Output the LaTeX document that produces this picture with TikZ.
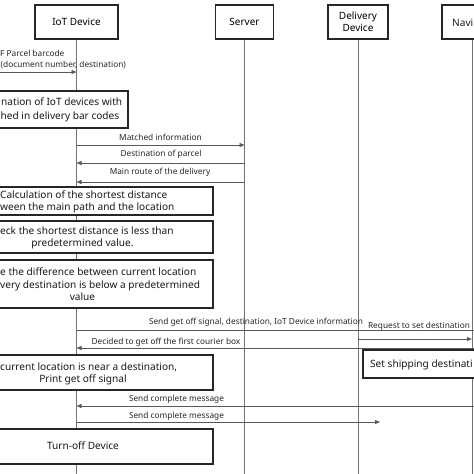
\documentclass[tikz,border=0pt]{standalone}
\usepackage{fontspec}
\setmainfont{Noto Sans}
\usetikzlibrary{arrows.meta}
\begin{document}
\begin{tikzpicture}[x=1pt,y=-1pt,
  life/.style={draw=black!55, line width=0.9pt},
  head/.style={draw=black!85, line width=1.2pt, fill=white, inner sep=0pt, align=center,
    font=\fontsize{10}{12}\selectfont},
  stepbox/.style={draw=black!85, line width=1.2pt, fill=white, inner sep=0pt},
  msg/.style={draw=black!65, line width=0.8pt, -{Triangle[length=5pt,width=4pt]}},
  lbl/.style={font=\fontsize{8.3}{9}\selectfont, inner sep=0pt, text=black!85},
  btx/.style={font=\fontsize{10.1}{11}\selectfont, inner sep=0pt, text=black!90},
]
\useasboundingbox (0,0) rectangle (474,474);
\clip (0,0) rectangle (474,474);
\fill[white] (0,0) rectangle (474,474);

% headers
\node[head, minimum width=83, minimum height=34] (iot) at (76.5,22) {IoT Device};
\node[head, minimum width=58, minimum height=34] (server) at (244.5,22) {Server};
\node[head, minimum width=60, minimum height=34] (dd) at (358,22) {Delivery\\Device};
\node[head, minimum width=60, minimum height=34] (navi) at (472,22) {};
\node[btx, anchor=west] (navitxt) at (452,23) {Navi};

% lifelines
\coordinate (iotend) at (iot.south |- 0,480);
\coordinate (serverend) at (server.south |- 0,480);
\coordinate (ddend) at (dd.south |- 0,480);
\coordinate (naviend) at (navi.south |- 0,480);
\draw[life] (iot.south) -- (iotend);
\draw[life] (server.south) -- (serverend);
\draw[life] (dd.south) -- (ddend);
\draw[life] (navi.south) -- (naviend);

% first message
\coordinate (src0) at (-5,72);
\draw[msg] (src0) -- (iot |- 0,72);
\node[lbl, anchor=base west] (l0a) at (0,56.5) {F Parcel barcode};
\node[lbl, anchor=base west] (l0b) at (0.5,67) {(document number, destination)};

% box 1
\node[stepbox, minimum width=148, minimum height=37] (b1) at (54,109.5) {};
\node[btx, anchor=base west] (b1a) at (1,105.5) {nation of IoT devices with};
\node[btx, anchor=base west] (b1b) at (0.5,119.5) {hed in delivery bar codes};

% messages with server
\draw[msg] (iot |- 0,145) -- (server |- 0,145);
\node[lbl, anchor=base] (l1) at (160.5,140) {Matched information};
\draw[msg] (server |- 0,163) -- (iot |- 0,163);
\node[lbl, anchor=base] (l2) at (161,156) {Destination of parcel};
\draw[msg] (server |- 0,182) -- (iot |- 0,182);
\node[lbl, anchor=base] (l3) at (160,174.5) {Main route of the delivery};

% box 2
\node[stepbox, minimum width=260, minimum height=28] (b2) at (83,201) {};
\node[btx, anchor=base west] (b2a) at (0,198.5) {Calculation of the shortest distance};
\node[btx, anchor=base west] (b2b) at (0,210.5) {ween the main path and the location};

% box 3
\node[stepbox, minimum width=260, minimum height=32] (b3) at (83,237) {};
\node[btx, anchor=base west] (b3a) at (0,234.5) {eck the shortest distance is less than};
\node[btx, anchor=base] (b3b) at (82.5,246.5) {predetermined value.};

% box 4
\node[stepbox, minimum width=260, minimum height=48] (b4) at (83,284) {};
\node[btx, anchor=base west] (b4a) at (0,275.5) {e the difference between current location};
\node[btx, anchor=base west] (b4b) at (0,288.5) {very destination is below a predetermined};
\node[btx, anchor=base] (b4c) at (82.5,300.5) {value};

% get off signal messages
\coordinate (farR1) at (480,330);
\coordinate (farR2) at (480,348);
\draw[msg] (iot |- 0,330) -- (farR1);
\node[lbl, anchor=base] (l4) at (256,324) {Send get off signal, destination, IoT Device information};
\draw[msg] (farR2) -- (iot |- 0,348);
\node[lbl, anchor=base] (l5) at (166,344) {Decided to get off the first courier box};
\draw[msg] (dd |- 0,339) -- (navi |- 0,339);
\node[lbl, anchor=base] (l6) at (419,328) {Request to set destination};

% set shipping box
\node[stepbox, minimum width=127, minimum height=28] (ship) at (426.5,364) {};
\node[btx, anchor=base west] (shiptxt) at (370,367.5) {Set shipping destinati};

% box 5
\node[stepbox, minimum width=260, minimum height=35] (b5) at (83,372.5) {};
\node[btx, anchor=base west] (b5a) at (0,370.5) {current location is near a destination,};
\node[btx, anchor=base] (b5b) at (83,382.5) {Print get off signal};

% complete messages
\coordinate (farR3) at (480,406);
\coordinate (end4) at (380,422);
\draw[msg] (farR3) -- (iot |- 0,406);
\node[lbl, anchor=base] (l7) at (176.5,401) {Send complete message};
\draw[msg] (iot |- 0,422) -- (end4);
\node[lbl, anchor=base] (l8) at (176.5,418) {Send complete message};

% box 6
\node[stepbox, minimum width=260, minimum height=35] (b6) at (83,446.5) {};
\node[btx, anchor=base] (b6a) at (83,449.5) {Turn-off Device};
\end{tikzpicture}
\end{document}
